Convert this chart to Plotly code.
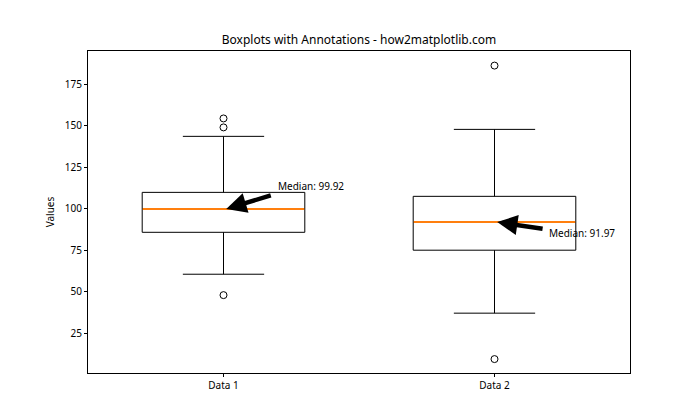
import plotly.graph_objects as go

# Data
categories = ["Data 1", "Data 2"]
positions = [1, 2]
q1 = [85.8, 75.0]
medians = [99.92, 91.97]
q3 = [109.9, 107.5]
lower_fence = [60.5, 37.0]
upper_fence = [143.7, 147.9]
outlier_x = [1, 1, 1, 2, 2]
outlier_y = [154.5, 149.1, 47.9, 186.4, 9.3]
y_ticks = [25, 50, 75, 100, 125, 150, 175]

FONT = "Noto Sans"
box_width = 0.6

fig = go.Figure()

fig.add_trace(go.Box(
    x=positions, q1=q1, median=medians, q3=q3,
    lowerfence=lower_fence, upperfence=upper_fence,
    width=box_width, whiskerwidth=0.5,
    line=dict(color="black", width=1),
    fillcolor="rgba(0,0,0,0)",
    boxpoints=False, showlegend=False, hoverinfo="skip",
))

# orange median lines
for p, m in zip(positions, medians):
    fig.add_trace(go.Scatter(
        x=[p - box_width / 2 + 0.002, p + box_width / 2 - 0.002], y=[m, m],
        mode="lines", line=dict(color="#ff7f0e", width=2),
        showlegend=False, hoverinfo="skip",
    ))

# outliers
fig.add_trace(go.Scatter(
    x=outlier_x, y=outlier_y, mode="markers",
    marker=dict(symbol="circle-open", size=7, color="black", line=dict(width=1)),
    showlegend=False, hoverinfo="skip",
))

# annotations: arrows and text
arrow_tails = [(1.18, 108.3), (2.183, 87.8)]
text_pos = [(1.2, medians[0] + 10), (2.2, medians[1] - 10)]
for p, m, (tx, ty), (lx, ly) in zip(positions, medians, arrow_tails, text_pos):
    fig.add_annotation(
        x=p + 0.01, y=m, xref="x", yref="y",
        ax=tx, ay=ty, axref="x", ayref="y",
        text="", showarrow=True, arrowhead=2, arrowsize=0.9,
        arrowwidth=4.5, arrowcolor="black", standoff=0, startstandoff=0,
    )
    fig.add_annotation(
        x=lx, y=ly, xref="x", yref="y",
        text=f"Median: {m:.2f}", showarrow=False,
        xanchor="left", yanchor="bottom", yshift=-3, xshift=-2,
        font=dict(family=FONT, size=10, color="black"),
    )

fig.update_layout(
    width=700, height=420,
    margin=dict(l=80, r=78, t=43, b=55),
    paper_bgcolor="white", plot_bgcolor="white",
    title=dict(text="Boxplots with Annotations - how2matplotlib.com",
               x=351 / 700, xanchor="center", y=1 - 32 / 420, yanchor="middle",
               yref="container",
               font=dict(family=FONT, size=12, color="black")),
    font=dict(family=FONT, size=10, color="black"),
)

fig.update_xaxes(
    range=[0.5, 2.5], tickmode="array", tickvals=positions, ticktext=categories,
    showgrid=False, zeroline=False, showline=True, mirror=True,
    linecolor="black", linewidth=1, ticks="outside", ticklen=3, tickcolor="black",
    tickfont=dict(family=FONT, size=10, color="black"),
)
fig.update_yaxes(
    range=[0.9, 195.2], tickmode="array", tickvals=y_ticks,
    showgrid=False, zeroline=False, showline=True, mirror=True,
    linecolor="black", linewidth=1, ticks="outside", ticklen=3, tickcolor="black",
    tickfont=dict(family=FONT, size=10, color="black"),
    title=dict(text="Values", font=dict(family=FONT, size=10, color="black"), standoff=8),
)

fig.write_html("out.html")
